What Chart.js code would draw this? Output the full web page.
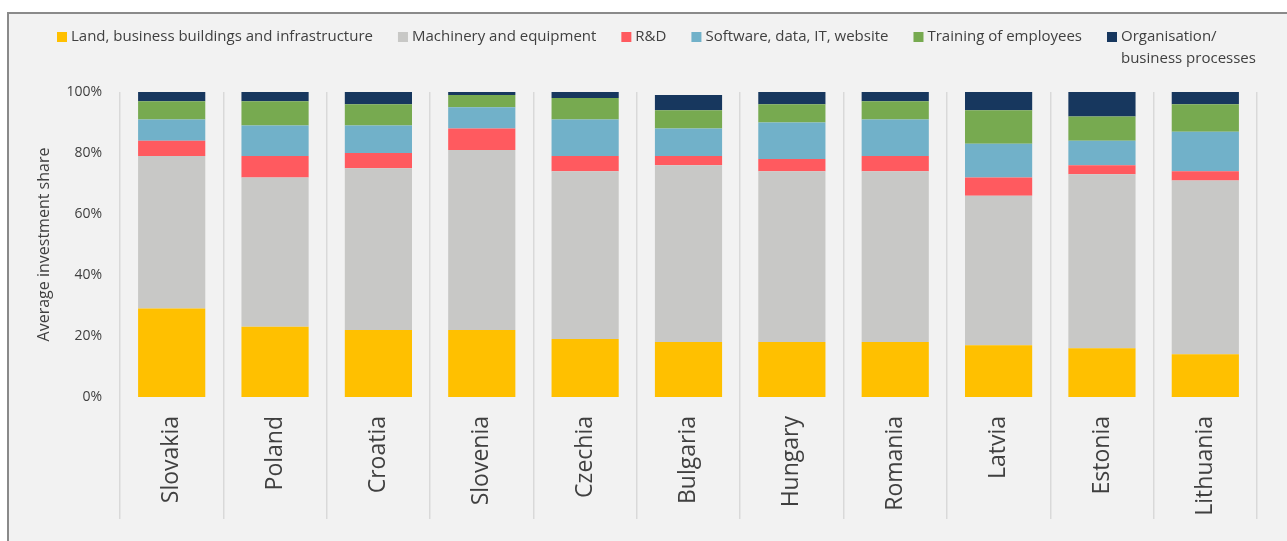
<!DOCTYPE html>
<html>
<head>
<meta charset="utf-8">
<script src="https://cdn.jsdelivr.net/npm/chart.js@4.4.1/dist/chart.umd.min.js"></script>
<style>
    body { margin: 0; background: #ffffff; overflow: hidden; }
    #frame { position: absolute; left: 7px; top: 12px; width: 1400px; height: 700px;
             background: #f2f2f2; border-top: 2px solid #8a8a8a; border-left: 2px solid #8a8a8a; }
    #wrap { position: absolute; left: 0; top: 0; width: 1287px; height: 541px; }
</style>
</head>
<body>
<div id="frame"></div>
<div id="wrap"><canvas id="myChart"></canvas></div>
<script>
// --------------------------- DATA ---------------------------
const countries = ['Slovakia', 'Poland', 'Croatia', 'Slovenia', 'Czechia', 'Bulgaria',
                   'Hungary', 'Romania', 'Latvia', 'Estonia', 'Lithuania'];

const land      = [29, 23, 22, 22, 19, 18, 18, 18, 17, 16, 14];
const machinery = [50, 49, 53, 59, 55, 58, 56, 56, 49, 57, 57];
const rnd       = [5, 7, 5, 7, 5, 3, 4, 5, 6, 3, 3];
const software  = [7, 10, 9, 7, 12, 9, 12, 12, 11, 8, 13];
const training  = [6, 8, 7, 4, 7, 6, 6, 6, 11, 8, 9];
const organis   = [3, 3, 4, 1, 2, 5, 4, 3, 6, 8, 4];

const yTicks = [0, 20, 40, 60, 80, 100];

// --------------------------- CHART ---------------------------
const FONT = "'Open Sans', sans-serif";
const TXT = '#404040';

const mkSet = (label, data, color) => ({
    label: label,
    data: data,
    backgroundColor: color,
    borderWidth: 0,
    barPercentage: 0.65,
    categoryPercentage: 1.0
});

// legend drawn by hand so the last entry can wrap onto two lines like the original
const boxLegend = {
    id: 'boxLegend',
    afterDraw: (chart) => {
        const c = chart.ctx;
        c.save();
        c.font = '15px ' + FONT;
        c.textBaseline = 'middle';
        let x = 57;
        const y = 37;
        chart.data.datasets.forEach((ds) => {
            const lines = ds.label.split(/(?<=\/) /);               // "Organisation/" + "business processes"
            c.fillStyle = ds.backgroundColor;
            c.fillRect(x, y - 5, 10, 10);
            c.fillStyle = TXT;
            lines.forEach((t, k) => c.fillText(t, x + 14, y + k * 22));
            const w = Math.max(...lines.map(t => c.measureText(t).width));
            x += 14 + w + 25;
        });
        c.restore();
    }
};

let ctx = document.querySelector('#myChart');
let myChart = new Chart(ctx, {
    type: 'bar',
    data: {
        labels: countries,
        datasets: [
            mkSet('Land, business buildings and infrastructure', land, '#ffc000'),
            mkSet('Machinery and equipment', machinery, '#c8c8c6'),
            mkSet('R&D', rnd, '#ff5a5f'),
            mkSet('Software, data, IT, website', software, '#71b1c9'),
            mkSet('Training of employees', training, '#77aa50'),
            mkSet('Organisation/ business processes', organis, '#17375e')
        ]
    },
    plugins: [boxLegend],
    options: {
        responsive: true,
        maintainAspectRatio: false,
        animation: false,
        layout: { padding: { top: 92, left: 30, right: 30, bottom: 0 } },
        plugins: {
            tooltip: { enabled: false },
            legend: { display: false }
        },
        scales: {
            x: {
                stacked: true,
                border: { display: false },
                grid: { offset: true, color: '#d9d9d9', lineWidth: 1.5, tickLength: 122 },
                ticks: {
                    color: TXT,
                    font: { family: FONT, size: 23 },
                    minRotation: 90,
                    maxRotation: 90,
                    padding: -103
                },
                afterFit: (scale) => { scale.height = 144; }
            },
            y: {
                stacked: true,
                min: 0,
                max: 100,
                border: { display: false },
                grid: { display: false, drawTicks: false },
                afterBuildTicks: (scale) => { scale.ticks = yTicks.map(v => ({ value: v })); },
                ticks: {
                    color: TXT,
                    font: { family: FONT, size: 14 },
                    padding: 18,
                    callback: (v) => v + '%'
                },
                title: {
                    display: true,
                    text: 'Average investment share',
                    color: TXT,
                    font: { family: FONT, size: 16 },
                    padding: { top: 5, bottom: 0 }
                },
                afterFit: (scale) => { scale.width = 90; }
            }
        }
    }
});
</script>
</body>
</html>
